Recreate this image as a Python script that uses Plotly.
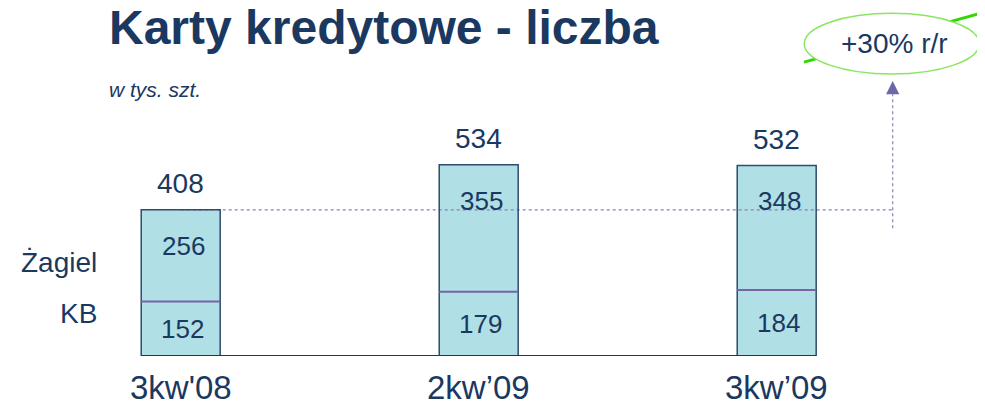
import plotly.graph_objects as go

categories = ["3kw'08", "2kw\u201909", "3kw\u201909"]
kb = [152, 179, 184]
zagiel = [256, 355, 348]
totals = [408, 534, 532]
series_names = ["KB", "\u017bagiel"]
title_text = "Karty kredytowe - liczba"
subtitle_text = "w tys. szt."
growth_text = "+30% r/r"

OFF = 8  # page body margin of the html page
W, H = 985 - OFF, 401 - OFF
BASE_PAGE = 355.7
B = H - (BASE_PAGE - OFF)
PH = H - B  # plot height in px
SCALE = 0.358  # px per unit
NAVY = "#1b3861"
FILL = "#b0dfe5"
BORDER = "#2f4b70"
DIVIDER = "#7565a6"
DOT = "#8a80bb"
BAR_W = 0.265
STEP = 298.0
C0 = 180.7 - OFF
FONT = "Liberation Sans, Arial, sans-serif"


def px(x, y):
    """page pixel position -> paper coords (decorations only)"""
    return (x - OFF) / W, (PH - (y - OFF)) / PH


def xdata(xpage):
    return (xpage - OFF - C0) / STEP


fig = go.Figure()
fig.add_trace(go.Bar(x=categories, y=kb, name=series_names[0], width=BAR_W,
                     marker=dict(color=FILL, line=dict(width=0)), hoverinfo="skip"))
fig.add_trace(go.Bar(x=categories, y=zagiel, name=series_names[1], width=BAR_W,
                     marker=dict(color=FILL, line=dict(width=0)), hoverinfo="skip"))

shapes = []
annotations = []

# dotted reference line from first bar total
shapes.append(dict(type="line", xref="x", yref="y", x0=0, x1=xdata(892.7), y0=totals[0], y1=totals[0],
                   line=dict(color=DOT, width=1.2, dash="dot"), layer="above"))

for i in range(len(categories)):
    tot = kb[i] + zagiel[i]
    shapes.append(dict(type="rect", xref="x", yref="y", x0=i - BAR_W / 2, x1=i + BAR_W / 2,
                       y0=0, y1=tot, line=dict(color=BORDER, width=1.5), layer="above"))
    shapes.append(dict(type="line", xref="x", yref="y", x0=i - BAR_W / 2, x1=i + BAR_W / 2,
                       y0=kb[i], y1=kb[i], line=dict(color=DIVIDER, width=2), layer="above"))
    annotations.append(dict(x=i, y=totals[i], xref="x", yref="y", text=str(totals[i]),
                            showarrow=False, yanchor="middle", yshift=26,
                            font=dict(size=28, color=NAVY, family=FONT)))
    annotations.append(dict(x=i, y=tot, xref="x", yref="y", text=str(zagiel[i]),
                            showarrow=False, yanchor="middle", yshift=-36, xshift=3,
                            font=dict(size=26, color=NAVY, family=FONT)))
    annotations.append(dict(x=i, y=kb[i] / 2, xref="x", yref="y", text=str(kb[i]),
                            showarrow=False, yanchor="middle", xshift=2,
                            font=dict(size=26, color=NAVY, family=FONT)))
    annotations.append(dict(x=i, y=0, xref="x", yref="y", text=categories[i],
                            showarrow=False, yanchor="middle", yshift=-31,
                            font=dict(size=33, color=NAVY, family=FONT)))

# baseline
shapes.append(dict(type="line", xref="x", yref="y", x0=-BAR_W / 2, x1=2 + BAR_W / 2, y0=0, y1=0,
                   line=dict(color=NAVY, width=2), layer="above"))

# vertical dotted line toward growth bubble
x0p, y0p = px(892.7, 228)
x1p, y1p = px(892.7, 92)
shapes.append(dict(type="line", xref="paper", yref="paper", x0=x0p, x1=x1p, y0=y0p, y1=y1p,
                   line=dict(color=DOT, width=1.2, dash="dot"), layer="above"))
ax_, ay_ = px(892.7, 81)
annotations.append(dict(x=ax_, y=ay_, xref="paper", yref="paper", text="", showarrow=True,
                        ax=0, ay=13, arrowhead=2, arrowsize=2.2, arrowwidth=1.2,
                        arrowcolor="#6c68a8"))

# green line behind bubble
g0x, g0y = px(804, 62)
g1x, g1y = px(985, 12)
shapes.append(dict(type="line", xref="paper", yref="paper", x0=g0x, y0=g0y, x1=g1x, y1=g1y,
                   line=dict(color="#2fd800", width=2.8), layer="above"))
# bubble
e0x, e0y = px(804.3, 74)
e1x, e1y = px(979.3, 13.3)
shapes.append(dict(type="circle", xref="paper", yref="paper", x0=e0x, y0=e0y, x1=e1x, y1=e1y,
                   fillcolor="white", line=dict(color="#8ae660", width=1.5), layer="above"))
gx, gy = px(894, 43)
annotations.append(dict(x=gx, y=gy, xref="paper", yref="paper", text=growth_text, showarrow=False,
                        xanchor="center", yanchor="middle",
                        font=dict(size=28, color=NAVY, family=FONT)))

# title and subtitle
tx, ty = px(107, 27)
annotations.append(dict(x=tx, y=ty, xref="paper", yref="paper", text="<b>%s</b>" % title_text,
                        showarrow=False, xanchor="left", yanchor="middle",
                        font=dict(size=48, color=NAVY, family=FONT)))
sx, sy = px(107, 89)
annotations.append(dict(x=sx, y=sy, xref="paper", yref="paper", text="<i>%s</i>" % subtitle_text,
                        showarrow=False, xanchor="left", yanchor="middle",
                        font=dict(size=21, color=NAVY, family=FONT)))

# series labels on the left
for name, ypix in [(series_names[1], 262), (series_names[0], 313)]:
    lx, ly = px(99, ypix)
    annotations.append(dict(x=lx, y=ly, xref="paper", yref="paper", text=name, showarrow=False,
                            xanchor="right", yanchor="middle",
                            font=dict(size=28, color=NAVY, family=FONT)))

x_lo = -C0 / STEP
x_hi = (W - C0) / STEP
fig.update_layout(
    width=W, height=H, barmode="stack", bargap=0,
    margin=dict(l=0, r=0, t=0, b=B, pad=0),
    paper_bgcolor="white", plot_bgcolor="white",
    showlegend=False,
    xaxis=dict(range=[x_lo, x_hi], visible=False, fixedrange=True),
    yaxis=dict(range=[0, PH / SCALE], visible=False, fixedrange=True),
    shapes=shapes, annotations=annotations,
)

fig.write_html("out.html", config={"displayModeBar": False})
